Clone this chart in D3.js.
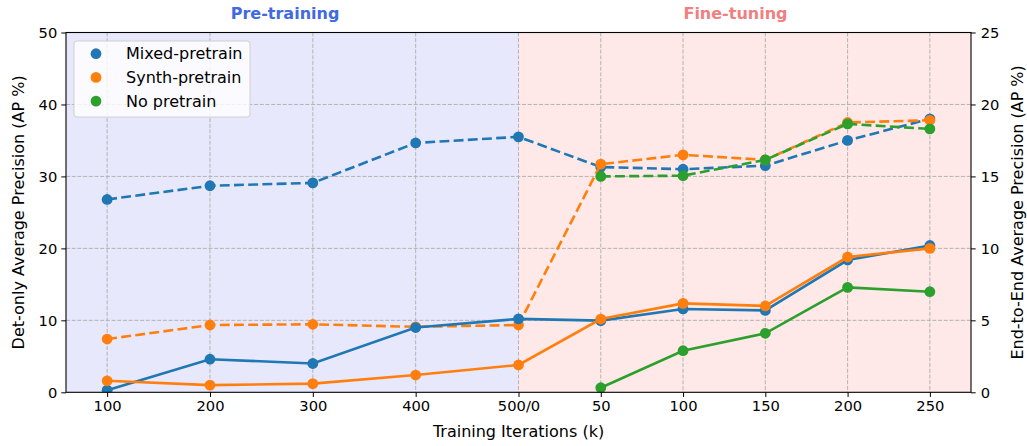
<!DOCTYPE html>
<html>
<head>
<meta charset="utf-8">
<script src="https://cdn.jsdelivr.net/npm/d3@7"></script>
<style>
  body { margin: 0; background: #fff; }
  svg { display: block; font-family: "DejaVu Sans", sans-serif; }
</style>
</head>
<body>
<script>
// data
var pretrainIters = [100, 200, 300, 400, 500];
var finetuneIters = [50, 100, 150, 200, 250];
var tickLabels = ["100", "200", "300", "400", "500/0", "50", "100", "150", "200", "250"];
var seriesNames = ["Mixed-pretrain", "Synth-pretrain", "No pretrain"];

// Det-only AP (left axis, dashed)
var detMixed = [26.8, 28.7, 29.1, 34.65, 35.5, 31.3, 31.0, 31.5, 35.0, 38.0];
var detSynth = [7.4, 9.35, 9.45, 9.1, 9.35, 31.7, 33.0, 32.3, 37.5, 37.8];
var detNone = [null, null, null, null, null, 30.0, 30.1, 32.3, 37.3, 36.6];

// End-to-End AP (right axis, solid)
var e2eMixed = [0.15, 2.3, 2.0, 4.5, 5.1, 4.98, 5.79, 5.69, 9.19, 10.2];
var e2eSynth = [0.8, 0.5, 0.6, 1.2, 1.9, 5.09, 6.18, 6.0, 9.4, 10.0];
var e2eNone = [null, null, null, null, null, 0.32, 2.89, 4.1, 7.29, 6.99];

var leftTicks = [0, 10, 20, 30, 40, 50];
var rightTicks = [0, 5, 10, 15, 20, 25];

var colors = ["#1f77b4", "#ff7f0e", "#2ca02c"];

var W = 1027, H = 446;
var margin = {left: 66, right: 56, top: 32.5, bottom: 53.7};
var plotW = W - margin.left - margin.right;
var plotH = H - margin.top - margin.bottom;

// x position of each point: pretrain one unit per 100k, fine-tune squeezed
var xVals = pretrainIters.map(function (k) { return k / 100; })
    .concat(finetuneIters.map(function (k) { return 5 + k / 62.5; }));

var xScale = d3.scaleLinear().domain([0.6, 9.4]).range([margin.left, margin.left + plotW]);
var yLeft = d3.scaleLinear().domain([0, 50]).range([margin.top + plotH, margin.top]);
var yRight = d3.scaleLinear().domain([0, 25]).range([margin.top + plotH, margin.top]);

var svg = d3.select("body").append("svg")
    .attr("width", W)
    .attr("height", H);

svg.append("defs").append("clipPath")
    .attr("id", "plot-clip")
    .append("rect")
    .attr("x", margin.left)
    .attr("y", margin.top)
    .attr("width", plotW)
    .attr("height", plotH);

// phase shading
svg.append("rect")
    .attr("x", margin.left)
    .attr("y", margin.top)
    .attr("width", xScale(5) - margin.left)
    .attr("height", plotH)
    .style("fill", "#e8e8fc");
svg.append("rect")
    .attr("x", xScale(5))
    .attr("y", margin.top)
    .attr("width", margin.left + plotW - xScale(5))
    .attr("height", plotH)
    .style("fill", "#fee8e8");

// grid
var grid = svg.append("g");
grid.selectAll("line.vx")
    .data(xVals)
    .enter().append("line")
    .attr("x1", function (d) { return xScale(d); })
    .attr("x2", function (d) { return xScale(d); })
    .attr("y1", margin.top)
    .attr("y2", margin.top + plotH);
grid.selectAll("line.hy")
    .data(leftTicks.slice(1, -1))
    .enter().append("line")
    .attr("x1", margin.left)
    .attr("x2", margin.left + plotW)
    .attr("y1", function (d) { return yLeft(d); })
    .attr("y2", function (d) { return yLeft(d); });
grid.selectAll("line")
    .style("stroke", "#b3b3b3")
    .style("stroke-width", 1)
    .style("stroke-dasharray", "4,1.7");

var plot = svg.append("g").attr("clip-path", "url(#plot-clip)");

function drawSeries(values, yScale, color, dashed) {
    var pts = values.map(function (v, i) { return {x: xVals[i], y: v}; })
        .filter(function (d) { return d.y !== null; });
    var line = d3.line()
        .x(function (d) { return xScale(d.x); })
        .y(function (d) { return yScale(d.y); });
    plot.append("path")
        .datum(pts)
        .attr("d", line)
        .style("fill", "none")
        .style("stroke", color)
        .style("stroke-width", 2.6)
        .style("stroke-dasharray", dashed ? "9.9,4.3" : null);
    plot.append("g").selectAll("circle")
        .data(pts)
        .enter().append("circle")
        .attr("cx", function (d) { return xScale(d.x); })
        .attr("cy", function (d) { return yScale(d.y); })
        .attr("r", 5.4)
        .style("fill", color);
}

drawSeries(detMixed, yLeft, colors[0], true);
drawSeries(detSynth, yLeft, colors[1], true);
drawSeries(detNone, yLeft, colors[2], true);
drawSeries(e2eMixed, yRight, colors[0], false);
drawSeries(e2eSynth, yRight, colors[1], false);
drawSeries(e2eNone, yRight, colors[2], false);

// axes
var xAxis = d3.axisBottom(xScale)
    .tickValues(xVals)
    .tickFormat(function (d, i) { return tickLabels[i]; })
    .tickSize(4.7)
    .tickPadding(4);
var leftAxis = d3.axisLeft(yLeft).tickValues(leftTicks).tickSize(4.7).tickPadding(4);
var rightAxis = d3.axisRight(yRight).tickValues(rightTicks).tickSize(4.7).tickPadding(5);

svg.append("g")
    .attr("transform", "translate(0," + (margin.top + plotH) + ")")
    .call(xAxis);
svg.append("g")
    .attr("transform", "translate(" + margin.left + ",0)")
    .call(leftAxis);
svg.append("g")
    .attr("transform", "translate(" + (margin.left + plotW) + ",0)")
    .call(rightAxis);

svg.selectAll(".domain").remove();
svg.selectAll(".tick line").style("stroke", "#000").style("stroke-width", 1);
svg.selectAll(".tick text")
    .style("font-family", "DejaVu Sans, sans-serif")
    .style("font-size", "14.7px")
    .style("fill", "#000");

// frame
svg.append("rect")
    .attr("x", margin.left)
    .attr("y", margin.top)
    .attr("width", plotW)
    .attr("height", plotH)
    .style("fill", "none")
    .style("stroke", "#000")
    .style("stroke-width", 1.1);

// axis labels
svg.append("text")
    .attr("transform", "translate(" + (margin.left + plotW / 2) + ",437)")
    .attr("text-anchor", "middle")
    .style("font-size", "16px")
    .text("Training Iterations (k)");
svg.append("text")
    .attr("transform", "translate(24," + (margin.top + plotH / 2) + ") rotate(-90)")
    .attr("text-anchor", "middle")
    .style("font-size", "16px")
    .text("Det-only Average Precision (AP %)");
svg.append("text")
    .attr("transform", "translate(1023," + (margin.top + plotH / 2) + ") rotate(-90)")
    .attr("text-anchor", "middle")
    .style("font-size", "16px")
    .text("End-to-End Average Precision (AP %)");

// phase titles
svg.append("text")
    .attr("x", xScale(2.73))
    .attr("y", 19)
    .attr("text-anchor", "middle")
    .style("font-size", "16px")
    .style("font-weight", "bold")
    .style("fill", "#4169e1")
    .text("Pre-training");
svg.append("text")
    .attr("x", xScale(7.11))
    .attr("y", 19)
    .attr("text-anchor", "middle")
    .style("font-size", "16px")
    .style("font-weight", "bold")
    .style("fill", "#f08080")
    .text("Fine-tuning");

// legend
var legend = svg.append("g").attr("transform", "translate(74,41)");
legend.append("rect")
    .attr("width", 176)
    .attr("height", 76)
    .attr("rx", 3)
    .style("fill", "rgba(255,255,255,0.8)")
    .style("stroke", "#d0d0d0")
    .style("stroke-width", 1);
var items = legend.selectAll("g.item")
    .data(seriesNames)
    .enter().append("g")
    .attr("transform", function (d, i) { return "translate(0," + (12.7 + i * 23.7) + ")"; });
items.append("circle")
    .attr("cx", 22)
    .attr("cy", 0)
    .attr("r", 5.4)
    .style("fill", function (d, i) { return colors[i]; });
items.append("text")
    .attr("x", 52)
    .attr("y", 0)
    .attr("dy", "0.36em")
    .style("font-size", "16px")
    .text(function (d) { return d; });
</script>
</body>
</html>
